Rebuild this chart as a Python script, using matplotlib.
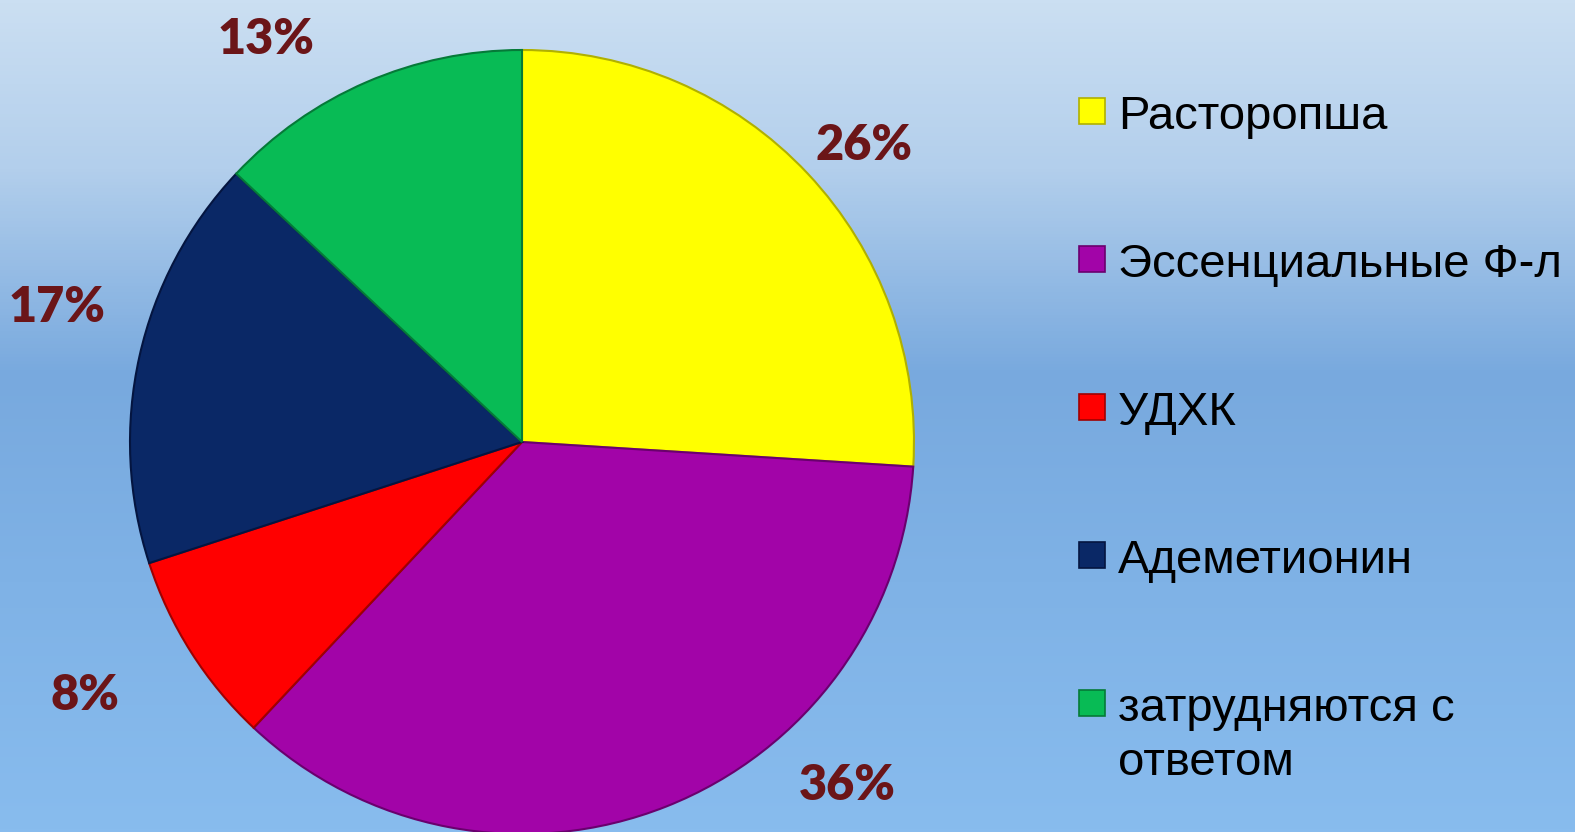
import matplotlib.pyplot as plt
import numpy as np
from matplotlib.colors import LinearSegmentedColormap
from matplotlib.patches import Rectangle

categories = ["Расторопша", "Эссенциальные Ф-л", "УДХК", "Адеметионин",
              "затрудняются с\nответом"]
shares = [26, 36, 8, 17, 13]
colors = ["#ffff00", "#a204a8", "#ff0000", "#0a2866", "#08bb55"]
edges = ["#b0b000", "#6a006e", "#a00000", "#041540", "#057a38"]

# label positions (pixels from top-left) for the percentage texts
label_pos = [(864, 141), (847, 782), (85, 691), (57, 304), (266, 35)]

W, H = 1575, 832
fig = plt.figure(figsize=(W / 100, H / 100), dpi=100)
ax = fig.add_axes([0, 0, 1, 1])

# background gradient, top to bottom
bg = LinearSegmentedColormap.from_list(
    "bg", [(0, "#cbdff2"), (0.2, "#b3cfec"), (0.45, "#78a9de"),
           (0.7, "#7fb2e6"), (1, "#88bcee")])
grad = np.linspace(0, 1, 256).reshape(-1, 1)
ax.imshow(grad, cmap=bg, extent=[0, W, 0, H], origin="upper",
          aspect="auto", zorder=0)

cx, cy, r = 522, H - 442, 392
wedges, _ = ax.pie(shares, colors=colors, startangle=90, counterclock=False,
                   center=(cx, cy), radius=r,
                   wedgeprops=dict(linewidth=1.5))
for w, e in zip(wedges, edges):
    w.set_edgecolor(e)
    w.set_zorder(2)

for s, (x, y) in zip(shares, label_pos):
    ax.text(x, H - y, f"{s}%", ha="center", va="center_baseline",
            fontsize=35, fontweight="heavy", family="Lato",
            color="#6b1518", zorder=3)

# legend
for i, (cat, c, e) in enumerate(zip(categories, colors, edges)):
    yc = H - (111 + 148 * i)
    ax.add_patch(Rectangle((1079, yc - 13), 26, 26, facecolor=c,
                           edgecolor=e, linewidth=1.2, zorder=3))
    for j, line in enumerate(cat.split("\n")):
        ax.text(1118, yc - 18 - 54 * j, line, ha="left", va="baseline",
                fontsize=34, family="Liberation Sans", color="black",
                zorder=3)

ax.set_xlim(0, W)
ax.set_ylim(0, H)
ax.set_aspect("equal")
ax.axis("off")

fig.savefig("out.png", dpi=100)
